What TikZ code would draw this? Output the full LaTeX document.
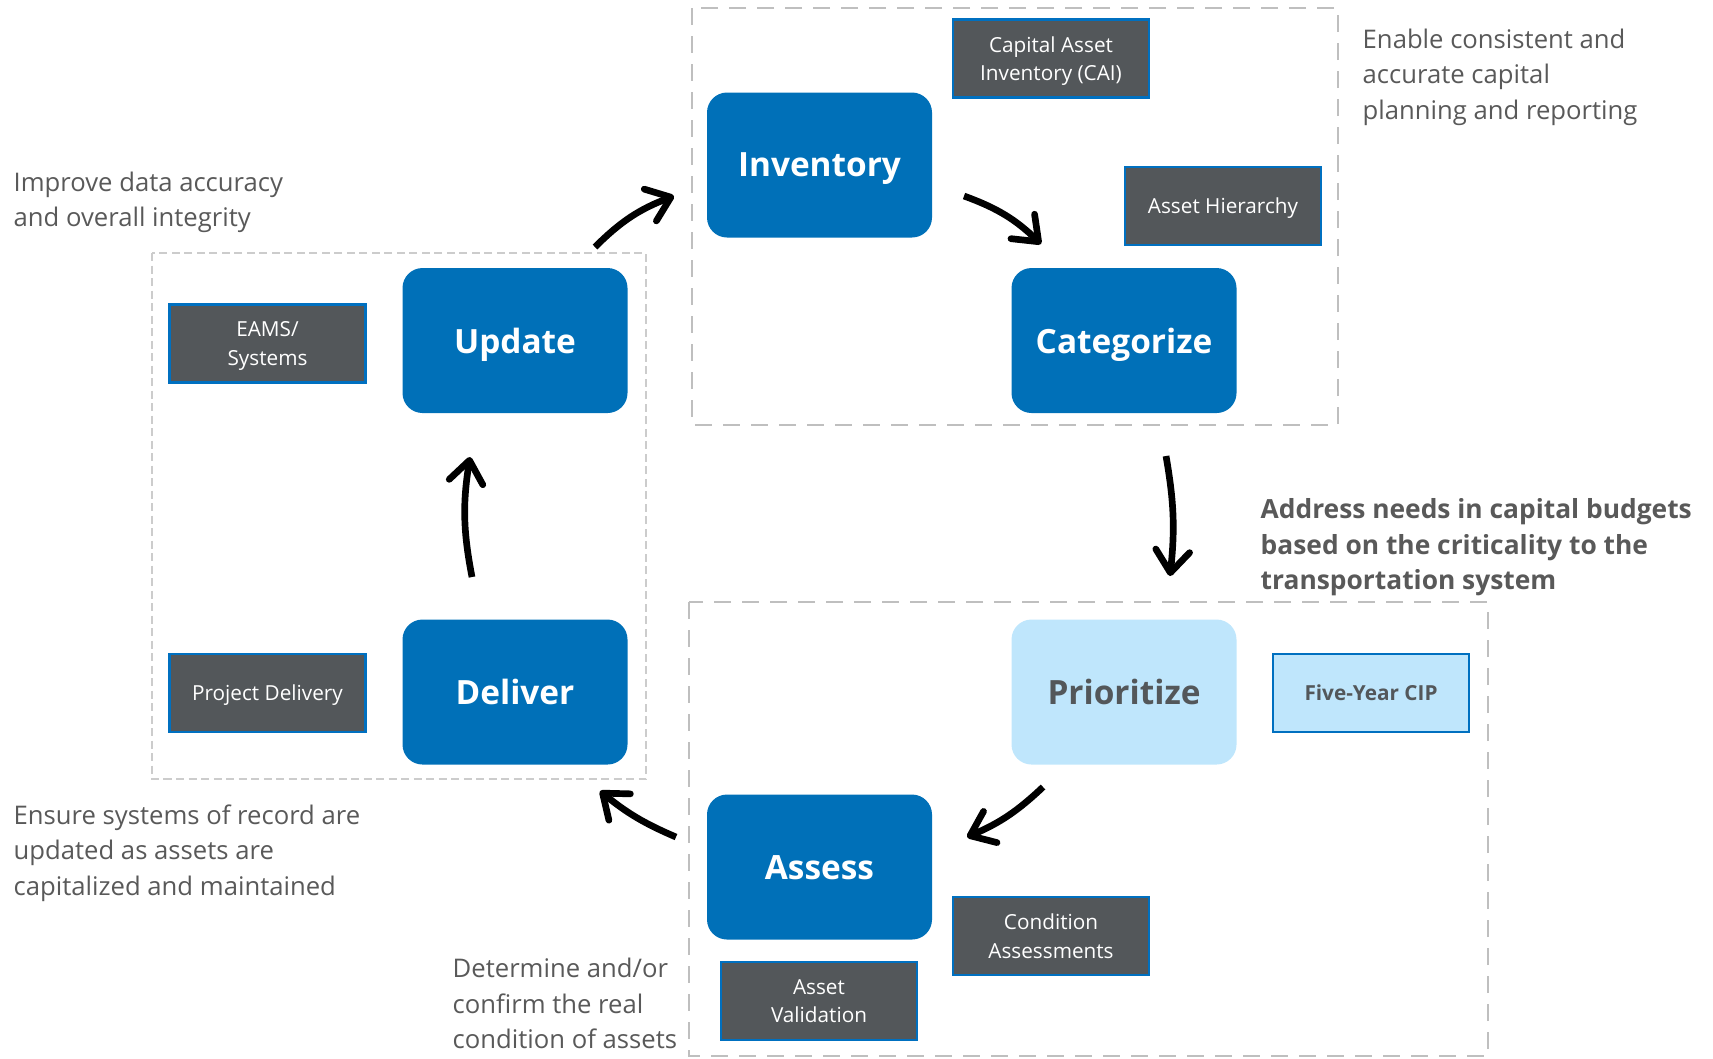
\documentclass[tikz,border=0pt]{standalone}
\usepackage{fontspec}
\setmainfont{Open Sans}
\usepackage{tikz}
\usetikzlibrary{arrows.meta}
\definecolor{boxblue}{HTML}{0070B8}
\definecolor{toolgray}{HTML}{53575A}
\definecolor{paleblue}{HTML}{BFE6FC}
\definecolor{edgeblue}{HTML}{0070C0}
\definecolor{notegray}{HTML}{595959}
\definecolor{framegray}{HTML}{BFBFBF}

\begin{document}
\begin{tikzpicture}[
		stage/.style={rounded corners=0.2cm, minimum width=2.25cm, minimum height=1.45cm, fill=boxblue, text=white, text depth=0pt, font=\fontsize{9.5}{11}\selectfont\bfseries},
		tool/.style={draw=edgeblue, line width=0.6pt, fill=toolgray, text=white, minimum width=1.96cm, minimum height=0.78cm, align=center, inner sep=1pt, text depth=0pt, font=\fontsize{5.9}{8.1}\selectfont},
		note/.style={anchor=north west, inner sep=0pt, align=left, text=notegray, font=\fontsize{7.3}{10.1}\selectfont},
		bigframe/.style={draw=framegray, line width=0.7pt, dash pattern=on 0.17cm off 0.11cm},
		smallframe/.style={draw=framegray!80, line width=0.4pt, dash pattern=on 0.08cm off 0.045cm},
		flow/.style={line width=1.9pt, -{Straight Barb[round, length=0.22cm, width=0.34cm]}},
	]
		\useasboundingbox (0,0) rectangle (17.13,-10.58);
		% Marcos
		\draw[bigframe] (6.92,-0.08) rectangle (13.38,-4.25);
		\draw[smallframe] (1.52,-2.53) rectangle (6.46,-7.79);
		\draw[bigframe] (6.89,-6.02) rectangle (14.88,-10.56);
		% Etapas
		\node[stage] (inventory) at (8.195,-1.65) {Inventory};
		\node[stage] (categorize) at (11.24,-3.405) {Categorize};
		\node[stage, fill=paleblue, text=toolgray] (prioritize) at (11.24,-6.92) {Prioritize};
		\node[stage] (assess) at (8.195,-8.67) {Assess};
		\node[stage] (deliver) at (5.15,-6.92) {Deliver};
		\node[stage] (update) at (5.15,-3.405) {Update};
		% Herramientas
		\node[tool] (cai) at (10.51,-0.585) {Capital Asset\\Inventory (CAI)};
		\node[tool] (hierarchy) at (12.23,-2.06) {Asset Hierarchy};
		\node[tool, fill=paleblue, text=toolgray, font=\fontsize{5.9}{8.1}\selectfont\bfseries] (cip) at (13.71,-6.93) {Five-Year CIP};
		\node[tool] (condition) at (10.51,-9.36) {Condition\\Assessments};
		\node[tool] (validation) at (8.19,-10.01) {Asset\\Validation};
		\node[tool] (project) at (2.675,-6.93) {Project Delivery};
		\node[tool] (eams) at (2.675,-3.435) {EAMS/\\Systems};
		% Notas
		\node[note] (improve) at (0.13,-1.71) {Improve data accuracy\\and overall integrity};
		\node[note] (enable) at (13.62,-0.28) {Enable consistent and\\accurate capital\\planning and reporting};
		\node[note, font=\fontsize{7.5}{10.1}\selectfont\bfseries] (address) at (12.6,-4.98) {Address needs in capital budgets\\based on the criticality to the\\transportation system};
		\node[note] (ensure) at (0.13,-8.04) {Ensure systems of record are\\updated as assets are\\capitalized and maintained};
		\node[note] (determine) at (4.52,-9.575) {Determine and/or\\confirm the real\\condition of assets};
		% Flechas
		\coordinate (up-a) at (5.95,-2.47);
		\coordinate (up-b) at (6.74,-1.96);
		\coordinate (in-a) at (9.64,-1.96);
		\coordinate (in-b) at (10.41,-2.44);
		\coordinate (ca-a) at (11.66,-4.56);
		\coordinate (ca-b) at (11.70,-5.76);
		\coordinate (pr-a) at (10.43,-7.87);
		\coordinate (pr-b) at (9.67,-8.37);
		\coordinate (as-a) at (6.76,-8.37);
		\coordinate (as-b) at (6.00,-7.91);
		\coordinate (de-a) at (4.72,-5.77);
		\coordinate (de-b) at (4.70,-4.57);
		\draw[flow] (up-a) to[bend left=12] (up-b);
		\draw[flow] (in-a) to[bend left=12] (in-b);
		\draw[flow] (ca-a) to[bend left=8] (ca-b);
		\draw[flow] (pr-a) to[bend left=10] (pr-b);
		\draw[flow] (as-a) to[bend left=8] (as-b);
		\draw[flow] (de-a) to[bend left=10] (de-b);
	\end{tikzpicture}
\end{document}
